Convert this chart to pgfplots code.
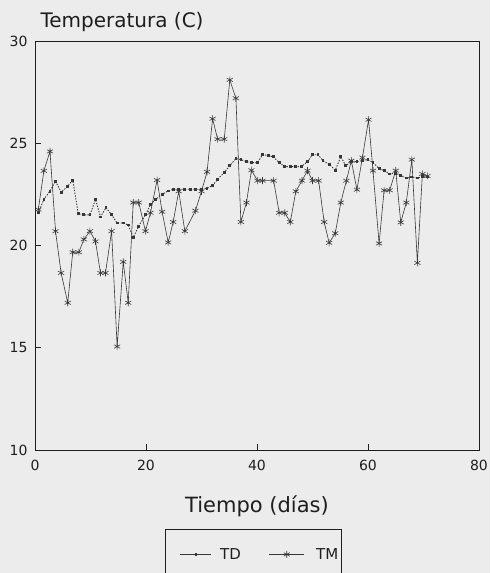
\documentclass[border=0pt]{standalone}
\usepackage{fontspec}
\setmainfont{DejaVu Sans}
\usepackage{pgfplots}
\pgfplotsset{compat=1.18}
\definecolor{paper}{RGB}{236,236,236}
\definecolor{ink}{RGB}{30,30,30}
\definecolor{trace}{RGB}{55,55,55}

\begin{document}
\begin{tikzpicture}
\fill[paper] (-35pt,-123pt) rectangle (455pt,450pt);
\path[use as bounding box] (-35pt,-123pt) rectangle (455pt,450pt);
\begin{axis}[
  at={(0pt,0pt)}, anchor=south west,
  scale only axis, width=444pt, height=409pt,
  xmin=0, xmax=80, ymin=10, ymax=30,
  xtick={0,20,40,60,80}, ytick={10,15,20,25,30},
  tick align=inside, tick pos=left, major tick length=6pt,
  axis line style={ink, line width=0.7pt},
  every tick/.style={ink, line width=0.7pt},
  ticklabel style={font=\fontsize{14}{16}\selectfont, text=ink},
  /pgf/number format/assume math mode=true,
  xticklabel style={yshift=-7pt},
  yticklabel style={xshift=-4pt},
  xlabel={Tiempo (días)},
  ylabel={Temperatura (C)},
  every axis x label/.style={at={(rel axis cs:0.5,0)}, anchor=base, yshift=-62pt,
    font=\fontsize{21}{24}\selectfont, text=ink},
  every axis y label/.style={at={(rel axis cs:0,1)}, anchor=base west, xshift=2pt, yshift=13pt,
    font=\fontsize{20}{24}\selectfont, text=ink},
  legend columns=2,
  legend style={at={(rel axis cs:0.2928,-0.1932)}, anchor=north west,
    draw=ink, fill=none, font=\fontsize{15}{18}\selectfont, text=ink,
    inner xsep=1pt, inner ysep=17pt,
    /tikz/every even column/.append style={column sep=26pt}},
]
% TD: dotted line with small square dots
\addplot[trace, line width=0.9pt, dash pattern=on 1.4pt off 1.4pt,
  mark=square*, mark size=0.9pt, mark options={solid},
  legend image code/.code={\path[draw=none] (-14pt,0pt) -- (38pt,0pt);
    \draw[solid, line width=0.6pt, mark repeat=2, mark phase=2]
    plot coordinates {(0pt,0pt) (15.5pt,0pt) (31pt,0pt)};}]
coordinates {
(0.6,21.6)(1.6,22.25)(2.7,22.66)(3.7,23.15)(4.7,22.6)(5.9,22.9)(6.8,23.2)(7.8,21.55)
(8.8,21.5)(9.9,21.5)(10.9,22.25)(11.8,21.4)(12.8,21.85)(13.8,21.5)(14.8,21.1)(15.9,21.1)
(16.8,21.0)(17.7,20.4)(18.7,20.95)(19.9,21.5)(20.8,22.0)(21.7,22.25)(22.9,22.5)(24.0,22.67)
(25.0,22.75)(25.9,22.75)(27.0,22.75)(28.0,22.75)(28.9,22.75)(30.0,22.75)(31.0,22.8)(32.0,22.93)
(32.9,23.24)(34.1,23.57)(35.1,23.9)(36.2,24.25)(37.1,24.2)(38.1,24.1)(39.0,24.05)(40.1,24.05)
(41.0,24.44)(42.0,24.4)(42.9,24.34)(44.0,24.05)(45.0,23.86)(46.0,23.86)(47.0,23.86)(48.0,23.86)
(49.1,24.1)(50.0,24.44)(51.0,24.44)(51.9,24.15)(53.1,23.95)(54.1,23.68)(55.1,24.34)(56.0,23.9)
(57.0,24.1)(58.0,24.1)(59.0,24.15)(60.0,24.2)(60.9,24.05)(62.0,23.76)(62.9,23.66)(63.9,23.5)
(65.0,23.53)(65.9,23.43)(66.9,23.3)(67.9,23.35)(68.9,23.3)(69.8,23.37)(70.7,23.35)
};
\addlegendentry{TD}
% TM: solid line with asterisks
\addplot[trace, line width=0.6pt, mark=asterisk, mark size=3.5pt,
  legend image code/.code={\path[draw=none] (0pt,0pt) -- (45pt,0pt);
    \draw[mark repeat=2, mark phase=2]
    plot coordinates {(0pt,0pt) (17.5pt,0pt) (35pt,0pt)};}]
coordinates {
(0.6,21.76)(1.6,23.65)(2.7,24.6)(3.7,20.7)(4.7,18.66)(5.9,17.2)(6.8,19.67)(7.9,19.67)
(8.8,20.3)(9.9,20.7)(10.9,20.2)(11.8,18.66)(12.7,18.66)(13.8,20.7)(14.8,15.06)(15.9,19.2)
(16.8,17.2)(17.7,22.1)(18.7,22.1)(19.9,20.7)(20.8,21.6)(22.0,23.2)(22.9,21.65)(24.0,20.15)
(24.9,21.15)(25.9,22.65)(27.0,20.7)(28.9,21.7)(30.0,22.65)(31.0,23.6)(32.0,26.2)(32.9,25.2)
(34.1,25.2)(35.1,28.1)(36.2,27.2)(37.1,21.15)(38.1,22.1)(39.0,23.68)(40.1,23.17)(41.0,23.17)
(43.0,23.17)(44.0,21.6)(45.0,21.6)(46.0,21.15)(47.0,22.65)(48.1,23.17)(49.1,23.66)(50.0,23.17)
(51.1,23.17)(52.1,21.15)(53.0,20.13)(54.1,20.6)(55.1,22.1)(56.1,23.17)(57.0,24.15)(58.0,22.73)
(59.0,24.3)(60.1,26.15)(60.9,23.66)(62.0,20.1)(62.9,22.7)(63.9,22.7)(65.0,23.66)(65.9,21.13)
(66.9,22.1)(67.9,24.2)(68.9,19.15)(69.8,23.5)(70.7,23.4)
};
\addlegendentry{TM}
\end{axis}
\end{tikzpicture}
\end{document}
